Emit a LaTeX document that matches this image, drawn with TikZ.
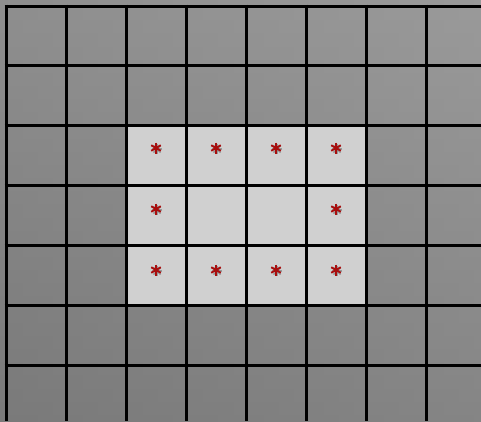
\documentclass[tikz,border=0pt]{standalone}
\usetikzlibrary{shadings,calc}
\definecolor{bgdark}{HTML}{7A7A7A}
\definecolor{bglight}{HTML}{9A9A9A}
\definecolor{bgmid}{HTML}{8C8C8C}
\definecolor{cellfill}{HTML}{D0D0D0}
\definecolor{starred}{HTML}{A80E0E}
\tikzset{
  gridline/.style={line width=3pt, black},
  starmark/.pic={
    \foreach \a in {0,45,90,135}{
      \draw[line width=1.6pt, black!55, opacity=0.6] ($(\a:5pt)+(1pt,-1pt)$) -- ($(\a+180:5pt)+(1pt,-1pt)$);
    }
    \foreach \a in {0,60,120}{
      \draw[line width=1.9pt, starred] (\a+90:5.5pt) -- (\a+270:5.5pt);
    }
  }
}
\begin{document}
\begin{tikzpicture}[x=1pt,y=-1pt]
\useasboundingbox (0,0) rectangle (481,421);
\shade[top color=bglight, bottom color=bgdark] (0,0) rectangle (481,421);
\shade[shading angle=45, left color=bgdark, right color=bglight, opacity=0.35] (0,0) rectangle (481,421);
\fill[cellfill] (126,125) rectangle (366,305);
\foreach \x in {6,66,126,186,246,306,366,426}{
  \draw[gridline] (\x,4.5) -- (\x,421);
}
\foreach \y in {6,65,125,185,245,305,365}{
  \draw[gridline] (4.5,\y) -- (481,\y);
}
\foreach \n/\x/\y in {a/156/148,b/216/148,c/276/148,d/336/148,e/156/209,f/336/209,g/156/270,h/216/270,i/276/270,j/336/270}{
  \coordinate (s\n) at (\x,\y);
  \pic at (s\n) {starmark};
}
\end{tikzpicture}
\end{document}
